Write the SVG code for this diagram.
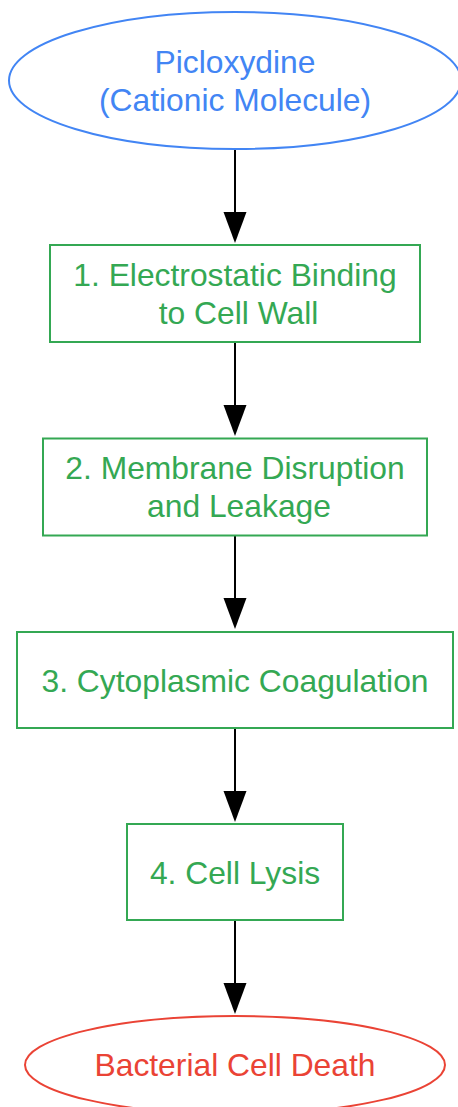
<svg xmlns="http://www.w3.org/2000/svg" width="458" height="1107" viewBox="0 0 458 1107">
<style>
text{font-family:"Liberation Sans",Arial,sans-serif;font-size:31.8px;text-anchor:middle}
.step rect{fill:#ffffff;stroke:#34A853;stroke-width:2}
.step text{fill:#34A853}
.conn line{stroke:#000000;stroke-width:2}
</style>
<defs>
<marker id="ah" markerUnits="userSpaceOnUse" markerWidth="30" markerHeight="23" refX="2" refY="11.5" orient="auto" overflow="visible">
<path d="M0,0 L31,11.5 L0,23 z" fill="#000000"/>
</marker>
</defs>
<rect width="458" height="1107" fill="#ffffff"/>
<g class="conn" id="connectors">
<line x1="235" y1="149" x2="235" y2="214" marker-end="url(#ah)"/>
<line x1="235" y1="343" x2="235" y2="407" marker-end="url(#ah)"/>
<line x1="235" y1="536" x2="235" y2="600" marker-end="url(#ah)"/>
<line x1="235" y1="728" x2="235" y2="793" marker-end="url(#ah)"/>
<line x1="235" y1="920" x2="235" y2="985" marker-end="url(#ah)"/>
</g>
<g id="start">
<ellipse cx="235" cy="80.5" rx="226" ry="68.5" fill="#ffffff" stroke="#4285F4" stroke-width="2"/>
<text x="235" y="72.5" fill="#4285F4">Picloxydine</text>
<text x="235" y="110.5" fill="#4285F4">(Cationic Molecule)</text>
</g>
<g id="step1" class="step">
<rect x="50" y="245" width="370" height="97"/>
<text x="235" y="285.5">1. Electrostatic Binding</text>
<text x="238.5" y="323.5">to Cell Wall</text>
</g>
<g id="step2" class="step">
<rect x="43" y="438.5" width="384" height="97"/>
<text x="235" y="479">2. Membrane Disruption</text>
<text x="239" y="517">and Leakage</text>
</g>
<g id="step3" class="step">
<rect x="17" y="632" width="436" height="96"/>
<text x="235" y="691.5">3. Cytoplasmic Coagulation</text>
</g>
<g id="step4" class="step">
<rect x="127" y="824" width="216" height="96"/>
<text x="235" y="884">4. Cell Lysis</text>
</g>
<g id="end">
<ellipse cx="235" cy="1065" rx="210" ry="49" fill="#ffffff" stroke="#EA4335" stroke-width="2"/>
<text x="235" y="1075.5" fill="#EA4335">Bacterial Cell Death</text>
</g>
</svg>
